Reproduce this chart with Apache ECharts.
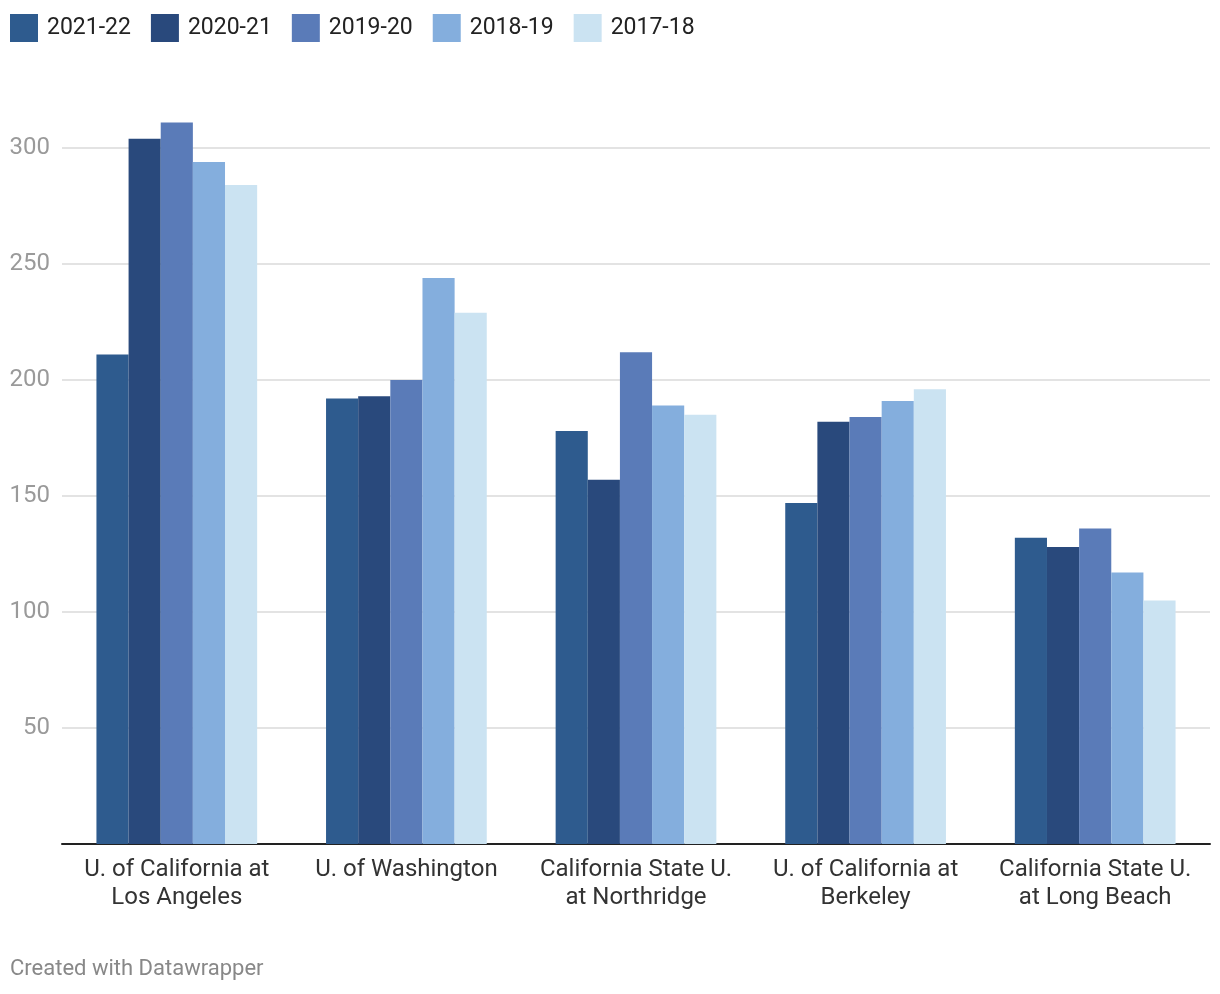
<!DOCTYPE html>
<html>
<head>
<meta charset="utf-8">
<script src="https://cdn.jsdelivr.net/npm/echarts@6/dist/echarts.min.js"></script>
<style>
html,body{margin:0;padding:0;background:#fff;}
#chart{width:1220px;height:994px;}
</style>
</head>
<body>
<div id="chart"></div>
<script>
const categories = [
  "U. of California at\nLos Angeles",
  "U. of Washington",
  "California State U.\nat Northridge",
  "U. of California at\nBerkeley",
  "California State U.\nat Long Beach"
];
const seriesNames = ["2021-22", "2020-21", "2019-20", "2018-19", "2017-18"];
const v2021_22 = [211, 192, 178, 147, 132];
const v2020_21 = [304, 193, 157, 182, 128];
const v2019_20 = [311, 200, 212, 184, 136];
const v2018_19 = [294, 244, 189, 191, 117];
const v2017_18 = [284, 229, 185, 196, 105];
const seriesValues = [v2021_22, v2020_21, v2019_20, v2018_19, v2017_18];
const colors = ["#2e5b8e", "#29497c", "#5a7bb8", "#84aedd", "#cbe3f2"];

const FONT = "Roboto";
const chart = echarts.init(document.getElementById('chart'), null, {renderer: 'canvas'});
const yMax = 320;
const option = {
  animation: false,
  textStyle: {fontFamily: FONT},
  color: colors,
  legend: {
    left: 10, top: 14, padding: 0,
    icon: 'rect',
    itemWidth: 28, itemHeight: 28,
    itemGap: 20,
    textStyle: {fontFamily: FONT, fontSize: 23, color: '#222', padding: [0, 0, 0, 4]},
    data: seriesNames
  },
  grid: {left: 62, right: 10, top: 844 - yMax * 2.32, bottom: 150, containLabel: false},
  xAxis: {
    type: 'category',
    data: categories,
    axisLine: {show: true, lineStyle: {color: '#222', width: 2}},
    axisTick: {show: false},
    axisLabel: {fontFamily: FONT, fontSize: 24, color: '#333', lineHeight: 28, margin: 12, interval: 0}
  },
  yAxis: {
    type: 'value',
    min: 0, max: yMax, interval: 50,
    axisLine: {show: false},
    axisTick: {show: false},
    axisLabel: {
      fontFamily: FONT, fontSize: 24, color: '#9a9a9a', margin: 12,
      formatter: function (v) { return (v > 0 && v % 50 === 0) ? String(v) : ''; }
    },
    splitLine: {show: true, lineStyle: {color: ['transparent', '#e3e3e3', '#e3e3e3', '#e3e3e3', '#e3e3e3', '#e3e3e3', '#e3e3e3', 'transparent'], width: 2}}
  },
  graphic: [{
    type: 'text', left: 10, top: 958,
    style: {text: 'Created with Datawrapper', fontFamily: FONT, fontSize: 22, fill: '#888'}
  }],
  series: seriesNames.map((name, i) => ({
    name: name,
    type: 'bar',
    data: seriesValues[i],
    barGap: '0%',
    barCategoryGap: '30%',
    itemStyle: {color: colors[i]}
  }))
};
chart.setOption(option);
</script>
</body>
</html>
